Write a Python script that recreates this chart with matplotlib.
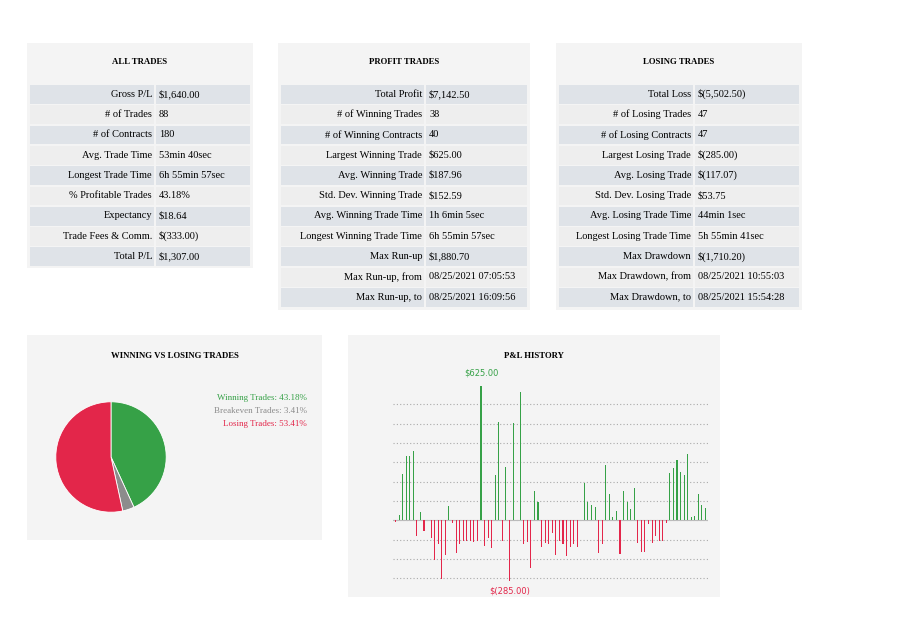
import matplotlib.pyplot as plt
from matplotlib.patches import Rectangle
import numpy as np

W, H = 901, 634

all_labels = ['Gross P/L', '# of Trades', '# of Contracts', 'Avg. Trade Time', 'Longest Trade Time',
              '% Profitable Trades', 'Expectancy', 'Trade Fees & Comm.', 'Total P/L']
all_values = ['$1,640.00', '88', '180', '53min 40sec', '6h 55min 57sec', '43.18%', '$18.64',
              '$(333.00)', '$1,307.00']
win_labels = ['Total Profit', '# of Winning Trades', '# of Winning Contracts', 'Largest Winning Trade',
              'Avg. Winning Trade', 'Std. Dev. Winning Trade', 'Avg. Winning Trade Time',
              'Longest Winning Trade Time', 'Max Run-up', 'Max Run-up, from', 'Max Run-up, to']
win_values = ['$7,142.50', '38', '40', '$625.00', '$187.96', '$152.59', '1h 6min 5sec',
              '6h 55min 57sec', '$1,880.70', '08/25/2021 07:05:53', '08/25/2021 16:09:56']
loss_labels = ['Total Loss', '# of Losing Trades', '# of Losing Contracts', 'Largest Losing Trade',
               'Avg. Losing Trade', 'Std. Dev. Losing Trade', 'Avg. Losing Trade Time',
               'Longest Losing Trade Time', 'Max Drawdown', 'Max Drawdown, from', 'Max Drawdown, to']
loss_values = ['$(5,502.50)', '47', '47', '$(285.00)', '$(117.07)', '$53.75', '44min 1sec',
               '5h 55min 41sec', '$(1,710.20)', '08/25/2021 10:55:03', '08/25/2021 15:54:28']

pie_labels = ['Winning Trades: 43.18%', 'Breakeven Trades: 3.41%', 'Losing Trades: 53.41%']
pie_shares = [43.18, 3.41, 53.41]

pnl = [-6, 24, 213, 299, 299, 323, -75, 38, -49, 0, -82, -183, -110, -273, -163, 66, -14, -152,
       -113, -98, -98, -98, -100, -98, 625, -122, -82, -128, 209, 459, -98, 248, -285, 454, 0,
       598, -113, -102, -223, 134, 85, -125, -104, -110, -59, -160, -98, -110, -168, -125, -113,
       -125, 0, 175, 85, 73, 61, -152, -113, 258, 123, 15, 43, -155, 134, 84, 53, 149, -104,
       -148, -148, -18, -104, -75, -95, -99, -12, 218, 244, 279, 224, 212, 308, 15, 20, 123,
       70, 59]

GREEN = '#36a147'
RED = '#e3264a'
GRAY = '#8c8c8c'
PANEL = '#f4f4f4'
plt.rcParams['font.family'] = ['Liberation Serif', 'DejaVu Serif']

fig = plt.figure(figsize=(W / 100, H / 100), dpi=100)
bg = fig.add_axes([0, 0, 1, 1])
bg.set_xlim(0, W)
bg.set_ylim(H, 0)
bg.axis('off')


def panel(x0, y0, x1, y1, title, ty=62):
    bg.add_patch(Rectangle((x0, y0), x1 - x0, y1 - y0, color=PANEL, lw=0))
    bg.text((x0 + x1) / 2, ty, title, ha='center', va='center', fontsize=6.3, fontweight='bold')


def table(x0, x1, split, labels, values, y0=85, rh=20.3):
    for i, (lab, val) in enumerate(zip(labels, values)):
        y = y0 + i * rh
        c = '#dfe3e8' if i % 2 == 0 else '#eeeeee'
        bg.add_patch(Rectangle((x0, y), split - x0 - 1, rh - 1.5, color=c, lw=0))
        bg.add_patch(Rectangle((split + 1, y), x1 - split - 1, rh - 1.5, color=c, lw=0))
        bg.text(split - 3, y + rh / 2 - 1, lab, ha='right', va='center', fontsize=7.5)
        bg.text(split + 4, y + rh / 2 - 1, val, ha='left', va='center', fontsize=7.5)


panel(27, 43, 253, 268, 'ALL TRADES')
table(30, 250, 155, all_labels, all_values)
panel(278, 43, 530, 310, 'PROFIT TRADES')
table(281, 527, 425, win_labels, win_values)
panel(556, 43, 802, 310, 'LOSING TRADES')
table(559, 799, 694, loss_labels, loss_values)

panel(27, 335, 322, 540, 'WINNING VS LOSING TRADES', ty=356)
panel(348, 335, 720, 597, 'P&L HISTORY', ty=356)

# pie
pax = fig.add_axes([42 / W, 1 - 526 / H, 138 / W, 138 / H])
pax.pie(pie_shares, colors=[GREEN, GRAY, RED], startangle=90, counterclock=False,
        wedgeprops=dict(linewidth=0.6, edgecolor='white'))
for i, (lab, c) in enumerate(zip(pie_labels, [GREEN, GRAY, RED])):
    bg.text(307, 398 + i * 13, lab, ha='right', va='center', fontsize=6.5, color=c)

# P&L history bars
top, bot = 386, 584
ax = fig.add_axes([393 / W, 1 - bot / H, 315 / W, (bot - top) / H])
ax.set_facecolor('none')
vals = np.array(pnl)
x = np.arange(len(vals))
cols = [GREEN if v > 0 else (RED if v < 0 else GRAY) for v in vals]
hts = np.where(vals == 0, 3, vals)
ax.bar(x, hts, width=0.3, color=cols, zorder=3)
ax.set_xlim(-0.7, len(vals) - 0.3)
ax.set_ylim(-297, 625)
for g in np.arange(-270, 541, 90):
    ax.axhline(g, color='#aaaaaa', lw=0.8, ls=(0, (1, 2)), zorder=1)
ax.axhline(0, color='#bbbbbb', lw=0.8, zorder=2)
for s in ax.spines.values():
    s.set_visible(False)
ax.set_xticks([])
ax.set_yticks([])
imax, imin = int(vals.argmax()), int(vals.argmin())
ax.annotate('$625.00', (imax, vals[imax]), xytext=(0, 6), textcoords='offset points',
            ha='center', va='bottom', fontsize=6, color=GREEN, family='DejaVu Sans')
ax.annotate('$(285.00)', (imin, vals[imin]), xytext=(0, -4), textcoords='offset points',
            ha='center', va='top', fontsize=6, color=RED, family='DejaVu Sans')

fig.savefig('out.png', dpi=100, facecolor='white')
